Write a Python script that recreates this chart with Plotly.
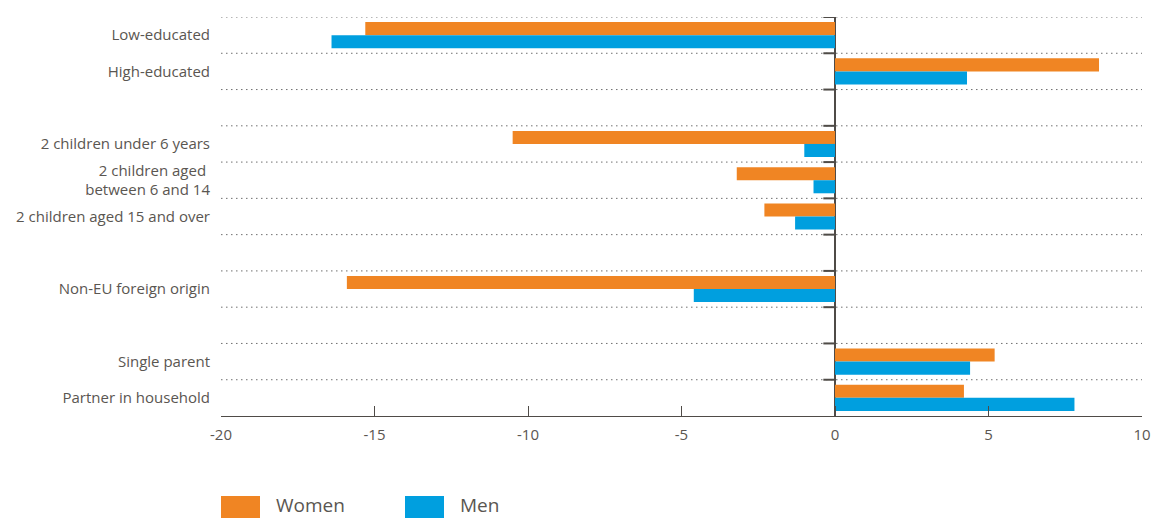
import plotly.graph_objects as go

# Category labels, grouped into blocks separated by an empty row
categories = [
    "Low-educated",
    "High-educated",
    "2 children under 6 years",
    "2 children aged <br>between 6 and 14",
    "2 children aged 15 and over",
    "Non-EU foreign origin",
    "Single parent",
    "Partner in household",
]
group_sizes = [2, 3, 1, 2]

women = [-15.3, 8.6, -10.5, -3.2, -2.3, -15.9, 5.2, 4.2]
men = [-16.4, 4.3, -1.0, -0.7, -1.3, -4.6, 4.4, 7.8]

series_names = ["Women", "Men"]
x_ticks = [-20, -15, -10, -5, 0, 5, 10]

COLORS = {"Women": "#F08523", "Men": "#009FDF"}
TEXT = "#5a5651"
AXIS = "#4f4b47"
GRID = "#6f6f6f"
FONT = "Open Sans, Noto Sans, sans-serif"

# Row index for every category: blocks are separated by one blank row
rows = []
r = 0
for size in group_sizes:
    for _ in range(size):
        rows.append(r)
        r += 1
    r += 1
last_row = rows[-1]
boundaries = [i - 0.5 for i in range(last_row + 1)]

fig = go.Figure()
for name, vals in zip(series_names, [women, men]):
    fig.add_trace(go.Bar(
        y=rows, x=vals, orientation="h", name=name,
        marker=dict(color=COLORS[name], line=dict(width=0)),
        showlegend=False, hoverinfo="x+name",
    ))

# dotted separators between rows, with short ticks left of the zero line
for b in boundaries:
    fig.add_shape(type="line", xref="paper", yref="y", x0=0, x1=1, y0=b, y1=b,
                  line=dict(color=GRID, width=1, dash="1.5px,3.5px"), layer="below")
    fig.add_shape(type="line", xref="x", yref="y", x0=-0.38, x1=0, y0=b, y1=b,
                  line=dict(color=AXIS, width=2), layer="above")

fig.update_layout(
    width=1155, height=518, autosize=False,
    margin=dict(l=221, r=13, t=17, b=102),
    paper_bgcolor="white", plot_bgcolor="white",
    barmode="group", bargap=0.28, bargroupgap=0,
    font=dict(family=FONT, color=TEXT),
    xaxis=dict(
        range=[-20, 10], tickvals=x_ticks, ticktext=[str(v) for v in x_ticks],
        ticks="inside", ticklen=10, tickcolor=AXIS, tickwidth=1.2,
        showline=True, linecolor=AXIS, linewidth=1.2,
        showgrid=False, zeroline=True, zerolinecolor=AXIS, zerolinewidth=1.6,
        tickfont=dict(size=15, color=TEXT), ticklabelstandoff=5,
        automargin=False,
    ),
    yaxis=dict(
        range=[last_row + 0.5, -0.5], tickvals=rows, ticktext=categories,
        showgrid=False, zeroline=False, showline=False, ticks="",
        tickfont=dict(size=15, color=TEXT), ticklabelstandoff=10,
        automargin=False,
    ),
)

# legend drawn as large swatches under the plot
plot_w = 1155 - 221 - 13
plot_h = 518 - 17 - 102


def px_x(px):
    return (px - 221) / plot_w


def px_y(py):
    return (518 - 102 - py) / plot_h


swatch_left = [221, 405]
for name, left in zip(series_names, swatch_left):
    fig.add_shape(type="rect", xref="paper", yref="paper",
                  x0=px_x(left), x1=px_x(left + 39), y0=px_y(496), y1=px_y(519),
                  fillcolor=COLORS[name], line=dict(width=0))
    fig.add_annotation(xref="paper", yref="paper", x=px_x(left + 54), y=px_y(505.5),
                       xanchor="left", yanchor="middle", text=name, showarrow=False,
                       borderpad=0, font=dict(size=19, color=TEXT, family=FONT))

fig.write_html("out.html")
